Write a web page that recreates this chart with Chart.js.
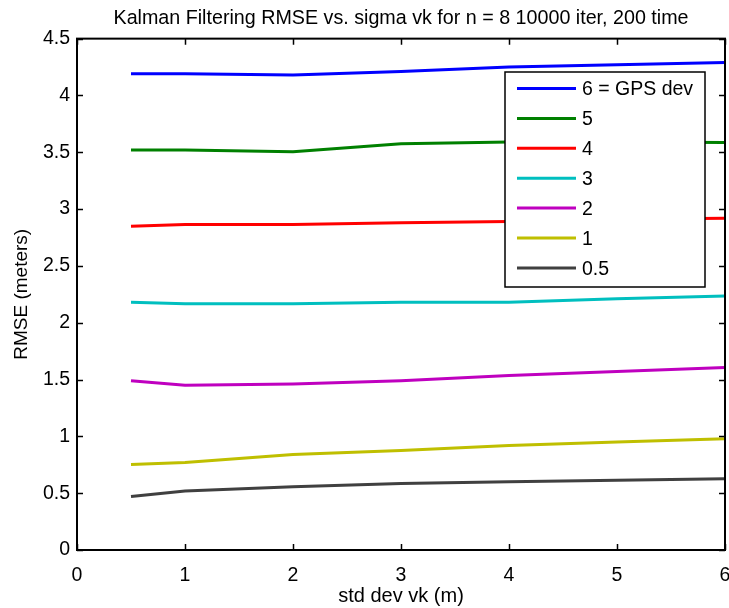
<!DOCTYPE html>
<html>
<head>
<meta charset="utf-8">
<script src="https://cdn.jsdelivr.net/npm/chart.js@4/dist/chart.umd.min.js"></script>
<style>
  html, body { margin: 0; padding: 0; background: #fff; }
  #wrap { width: 729px; height: 608px; position: relative; }
</style>
</head>
<body>
<div id="wrap"><canvas id="c" width="729" height="608"></canvas></div>
<script>
// Process noise standard deviation (x axis)
const sigmaVk = [0.5, 1, 2, 3, 4, 5, 6];

// RMSE per GPS measurement deviation
const seriesLabels = ['6 = GPS dev', '5', '4', '3', '2', '1', '0.5'];
const rmseGps6   = [4.19, 4.19, 4.18, 4.21, 4.25, 4.27, 4.29];
const rmseGps5   = [3.52, 3.52, 3.505, 3.575, 3.59, 3.59, 3.585];
const rmseGps4   = [2.85, 2.865, 2.865, 2.88, 2.89, 2.91, 2.92];
const rmseGps3   = [2.18, 2.168, 2.168, 2.18, 2.18, 2.21, 2.235];
const rmseGps2   = [1.49, 1.45, 1.46, 1.49, 1.535, 1.57, 1.605];
const rmseGps1   = [0.752, 0.77, 0.84, 0.875, 0.92, 0.95, 0.978];
const rmseGps05  = [0.47, 0.52, 0.556, 0.585, 0.60, 0.613, 0.626];

const xTicks = [0, 1, 2, 3, 4, 5, 6];
const yTicks = [0, 0.5, 1, 1.5, 2, 2.5, 3, 3.5, 4, 4.5];

const seriesValues = [rmseGps6, rmseGps5, rmseGps4, rmseGps3, rmseGps2, rmseGps1, rmseGps05];
const seriesColors = ['#0000ff', '#008000', '#ff0000', '#00bfbf', '#bf00bf', '#bfbf00', '#404040'];

const FONT = '"Liberation Sans", Arial, sans-serif';
const TICK_SIZE = 19.5;

const datasets = seriesValues.map((vals, i) => ({
  label: seriesLabels[i],
  data: vals.map((v, j) => ({ x: sigmaVk[j], y: v })),
  borderColor: seriesColors[i],
  backgroundColor: seriesColors[i],
  borderWidth: 3,
  pointRadius: 0,
  tension: 0,
  fill: false
}));

// Box frame with inward ticks on all four sides, plus the boxed legend
const framePlugin = {
  id: 'frame',
  afterDatasetsDraw(chart) {
    const { ctx, chartArea: a, scales: { x, y } } = chart;
    ctx.save();
    ctx.strokeStyle = '#000';
    ctx.lineWidth = 1.5;
    const tl = 6;
    ctx.beginPath();
    xTicks.forEach(t => {
      const px = Math.round(x.getPixelForValue(t)) + 0.5;
      ctx.moveTo(px, a.bottom); ctx.lineTo(px, a.bottom - tl);
      ctx.moveTo(px, a.top); ctx.lineTo(px, a.top + tl);
    });
    yTicks.forEach(t => {
      const py = Math.round(y.getPixelForValue(t)) + 0.5;
      ctx.moveTo(a.left, py); ctx.lineTo(a.left + tl, py);
      ctx.moveTo(a.right, py); ctx.lineTo(a.right - tl, py);
    });
    ctx.stroke();
    ctx.lineWidth = 2;
    ctx.strokeRect(a.left, a.top, a.right - a.left, a.bottom - a.top);

    // legend
    const lx = 505, ly = 72, lw = 200, lh = 215;
    ctx.fillStyle = '#fff';
    ctx.fillRect(lx, ly, lw, lh);
    ctx.lineWidth = 1.5;
    ctx.strokeRect(lx, ly, lw, lh);
    ctx.font = TICK_SIZE + 'px ' + FONT;
    ctx.textBaseline = 'middle';
    ctx.textAlign = 'left';
    chart.data.datasets.forEach((ds, i) => {
      const ry = 88.5 + i * 29.9;
      ctx.strokeStyle = ds.borderColor;
      ctx.lineWidth = 3;
      ctx.beginPath();
      ctx.moveTo(517, ry); ctx.lineTo(576, ry);
      ctx.stroke();
      ctx.fillStyle = '#000';
      ctx.fillText(ds.label, 582, ry + 1.5);
    });
    ctx.restore();
  }
};

new Chart(document.getElementById('c'), {
  type: 'line',
  data: { datasets },
  options: {
    responsive: false,
    animation: false,
    clip: false,
    layout: { padding: { left: 0, right: 4, top: 0, bottom: 0 } },
    plugins: {
      legend: { display: false },
      tooltip: { enabled: false },
      title: {
        display: true,
        fullSize: false,
        text: 'Kalman Filtering RMSE vs. sigma vk for n = 8 10000 iter, 200 time',
        color: '#000',
        font: { family: FONT, size: 19.7, weight: 'normal' },
        padding: { top: 7, bottom: 8 }
      }
    },
    scales: {
      x: {
        type: 'linear',
        min: 0, max: 6,
        afterBuildTicks(s) { s.ticks = xTicks.map(v => ({ value: v })); },
        afterFit(s) { s.height = 58; s.paddingLeft = 0; s.paddingRight = 0; },
        grid: { display: false, drawTicks: false },
        border: { display: false },
        ticks: {
          color: '#000',
          font: { family: FONT, size: TICK_SIZE },
          padding: 14,
          maxRotation: 0,
          autoSkip: false,
          callback: v => String(v)
        },
        title: {
          display: true,
          text: 'std dev vk (m)',
          color: '#000',
          font: { family: FONT, size: 20 },
          padding: { top: 0, bottom: 0 }
        }
      },
      y: {
        type: 'linear',
        min: 0, max: 4.5,
        afterBuildTicks(s) { s.ticks = yTicks.map(v => ({ value: v })); },
        afterFit(s) { s.width = 77; s.paddingTop = 0; s.paddingBottom = 0; },
        grid: { display: false, drawTicks: false },
        border: { display: false },
        ticks: {
          color: '#000',
          font: { family: FONT, size: TICK_SIZE },
          padding: 7,
          autoSkip: false,
          callback: v => String(v)
        },
        title: {
          display: true,
          text: 'RMSE (meters)',
          color: '#000',
          font: { family: FONT, size: 19 },
          padding: { top: 10, bottom: 0 }
        }
      }
    }
  },
  plugins: [framePlugin]
});
</script>
</body>
</html>
